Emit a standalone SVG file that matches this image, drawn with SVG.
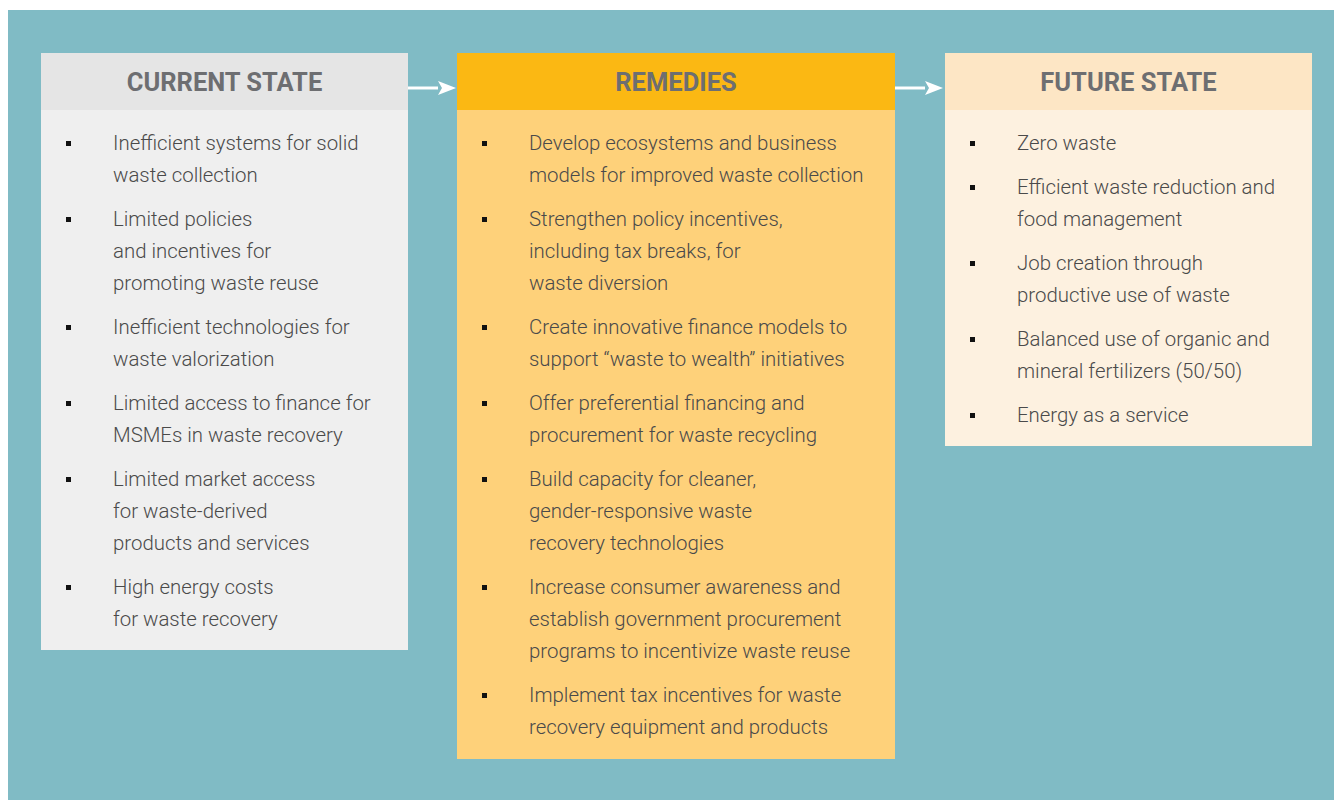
<svg xmlns="http://www.w3.org/2000/svg" width="1334" height="800" viewBox="0 0 1334 800">
<defs>
<style>
.hd{font-family:Roboto,"Liberation Sans",sans-serif;font-weight:bold;font-size:25.5px;fill:#6d6e71;text-anchor:middle}
.tx{font-family:Roboto,"Liberation Sans",sans-serif;font-weight:300;font-size:20.4px;fill:#4a4a4a}
.bl{fill:#111111}
</style>
<marker id="ah" markerWidth="18" markerHeight="14" refX="0" refY="7" orient="auto" markerUnits="userSpaceOnUse">
<path d="M0,0 L18,7 L0,14 L4,7 Z" fill="#ffffff"/>
</marker>
</defs>
<rect x="0" y="0" width="1334" height="800" fill="#ffffff"/>
<rect x="8" y="10" width="1326" height="790" fill="#80bbc5"/>
<g id="connectors">
<line x1="408" y1="88" x2="438" y2="88" stroke="#ffffff" stroke-width="3" marker-end="url(#ah)"/>
<line x1="895" y1="88" x2="925" y2="88" stroke="#ffffff" stroke-width="3" marker-end="url(#ah)"/>
</g>
<g id="current">
<rect x="41" y="53" width="367" height="597" fill="#efefef"/>
<rect x="41" y="53" width="367" height="57" fill="#e5e5e5"/>
<text class="hd" x="224.5" y="91">CURRENT STATE</text>
<g class="bl">
<rect x="66" y="141" width="5" height="5"/><rect x="66" y="217" width="5" height="5"/><rect x="66" y="325" width="5" height="5"/><rect x="66" y="401" width="5" height="5"/><rect x="66" y="477" width="5" height="5"/><rect x="66" y="585" width="5" height="5"/>
</g>
<text class="tx" x="113" y="150">Inefficient systems for solid</text>
<text class="tx" x="113" y="182">waste collection</text>
<text class="tx" x="113" y="226">Limited policies</text>
<text class="tx" x="113" y="258">and incentives for</text>
<text class="tx" x="113" y="290">promoting waste reuse</text>
<text class="tx" x="113" y="334">Inefficient technologies for</text>
<text class="tx" x="113" y="366">waste valorization</text>
<text class="tx" x="113" y="410">Limited access to finance for</text>
<text class="tx" x="113" y="442">MSMEs in waste recovery</text>
<text class="tx" x="113" y="486">Limited market access</text>
<text class="tx" x="113" y="518">for waste-derived</text>
<text class="tx" x="113" y="550">products and services</text>
<text class="tx" x="113" y="594">High energy costs</text>
<text class="tx" x="113" y="626">for waste recovery</text>
</g>
<g id="remedies">
<rect x="457" y="53" width="438" height="706" fill="#fed17a"/>
<rect x="457" y="53" width="438" height="57" fill="#fbb813"/>
<text class="hd" x="676" y="91">REMEDIES</text>
<g class="bl">
<rect x="482" y="141" width="5" height="5"/><rect x="482" y="217" width="5" height="5"/><rect x="482" y="325" width="5" height="5"/><rect x="482" y="401" width="5" height="5"/><rect x="482" y="477" width="5" height="5"/><rect x="482" y="585" width="5" height="5"/><rect x="482" y="693" width="5" height="5"/>
</g>
<text class="tx" x="529" y="150">Develop ecosystems and business</text>
<text class="tx" x="529" y="182">models for improved waste collection</text>
<text class="tx" x="529" y="226">Strengthen policy incentives,</text>
<text class="tx" x="529" y="258">including tax breaks, for</text>
<text class="tx" x="529" y="290">waste diversion</text>
<text class="tx" x="529" y="334">Create innovative finance models to</text>
<text class="tx" x="529" y="366">support “waste to wealth” initiatives</text>
<text class="tx" x="529" y="410">Offer preferential financing and</text>
<text class="tx" x="529" y="442">procurement for waste recycling</text>
<text class="tx" x="529" y="486">Build capacity for cleaner,</text>
<text class="tx" x="529" y="518">gender-responsive waste</text>
<text class="tx" x="529" y="550">recovery technologies</text>
<text class="tx" x="529" y="594">Increase consumer awareness and</text>
<text class="tx" x="529" y="626">establish government procurement</text>
<text class="tx" x="529" y="658">programs to incentivize waste reuse</text>
<text class="tx" x="529" y="702">Implement tax incentives for waste</text>
<text class="tx" x="529" y="734">recovery equipment and products</text>
</g>
<g id="future">
<rect x="945" y="53" width="367" height="393" fill="#fdf1e0"/>
<rect x="945" y="53" width="367" height="57" fill="#fde6c5"/>
<text class="hd" x="1128.5" y="91">FUTURE STATE</text>
<g class="bl">
<rect x="970" y="141" width="5" height="5"/><rect x="970" y="185" width="5" height="5"/><rect x="970" y="261" width="5" height="5"/><rect x="970" y="337" width="5" height="5"/><rect x="970" y="413" width="5" height="5"/>
</g>
<text class="tx" x="1017" y="150">Zero waste</text>
<text class="tx" x="1017" y="194">Efficient waste reduction and</text>
<text class="tx" x="1017" y="226">food management</text>
<text class="tx" x="1017" y="270">Job creation through</text>
<text class="tx" x="1017" y="302">productive use of waste</text>
<text class="tx" x="1017" y="346">Balanced use of organic and</text>
<text class="tx" x="1017" y="378">mineral fertilizers (50/50)</text>
<text class="tx" x="1017" y="422">Energy as a service</text>
</g>
</svg>
